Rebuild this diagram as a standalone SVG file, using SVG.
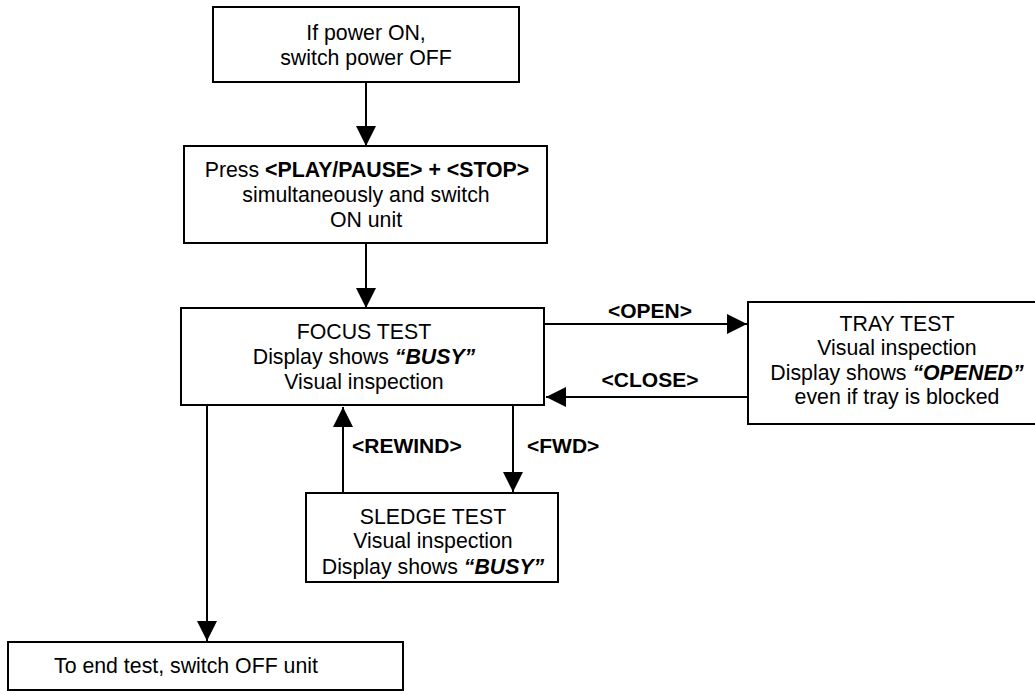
<svg xmlns="http://www.w3.org/2000/svg" width="1035" height="691" viewBox="0 0 1035 691">
<defs>
<marker id="ah" markerUnits="userSpaceOnUse" markerWidth="20" markerHeight="20" refX="20" refY="10" orient="auto">
<path d="M0,0 L20,10 L0,20 Z" fill="#000"/>
</marker>
<style>
.box{fill:#fff;stroke:#000;stroke-width:2}
.t{font-family:"Liberation Sans",Arial,sans-serif;font-size:21.3px;fill:#000;text-anchor:middle}
.b{font-weight:bold}
.bi{font-weight:bold;font-style:italic}
.lbl{font-family:"Liberation Sans",Arial,sans-serif;font-size:21px;font-weight:bold;fill:#000}
.c{fill:none;stroke:#000;stroke-width:2;marker-end:url(#ah)}
</style>
</defs>
<rect width="1035" height="691" fill="#fff"/>
<g id="connectors">
<line class="c" x1="366" y1="82" x2="366" y2="146"/>
<line class="c" x1="366" y1="243" x2="366" y2="308"/>
<line class="c" x1="544" y1="324" x2="747" y2="324"/>
<line class="c" x1="748" y1="397" x2="546" y2="397"/>
<line class="c" x1="343" y1="493" x2="343" y2="407"/>
<line class="c" x1="513" y1="405" x2="513" y2="492"/>
<line class="c" x1="207" y1="405" x2="207" y2="641"/>
<text class="lbl" x="650" y="318" text-anchor="middle">&lt;OPEN&gt;</text>
<text class="lbl" x="650" y="387" text-anchor="middle">&lt;CLOSE&gt;</text>
<text class="lbl" x="352" y="453">&lt;REWIND&gt;</text>
<text class="lbl" x="527" y="453">&lt;FWD&gt;</text>
</g>
<g id="n1">
<rect class="box" x="213" y="7" width="306" height="75"/>
<text class="t" x="366" y="40">If power ON,</text>
<text class="t" x="366" y="65">switch power OFF</text>
</g>
<g id="n2">
<rect class="box" x="184" y="146" width="363" height="97"/>
<text class="t" x="367" y="177">Press <tspan class="b">&lt;PLAY/PAUSE&gt; + &lt;STOP&gt;</tspan></text>
<text class="t" x="366" y="202">simultaneously and switch</text>
<text class="t" x="366" y="227">ON unit</text>
</g>
<g id="n3">
<rect class="box" x="181" y="308" width="363" height="97"/>
<text class="t" x="364" y="339">FOCUS TEST</text>
<text class="t" x="364" y="364">Display shows <tspan class="bi">“BUSY”</tspan></text>
<text class="t" x="364" y="389">Visual inspection</text>
</g>
<g id="n4">
<rect class="box" x="748" y="302" width="300" height="122"/>
<text class="t" x="897" y="331">TRAY TEST</text>
<text class="t" x="897" y="355">Visual inspection</text>
<text class="t" x="897" y="380">Display shows <tspan class="bi">“OPENED”</tspan></text>
<text class="t" x="897" y="404">even if tray is blocked</text>
</g>
<g id="n5">
<rect class="box" x="306" y="493" width="252" height="89"/>
<text class="t" x="433" y="524">SLEDGE TEST</text>
<text class="t" x="433" y="548">Visual inspection</text>
<text class="t" x="433" y="574">Display shows <tspan class="bi">“BUSY”</tspan></text>
</g>
<g id="n6">
<rect class="box" x="8" y="642" width="395" height="48"/>
<text class="t" x="186" y="673">To end test, switch OFF unit</text>
</g>
</svg>
